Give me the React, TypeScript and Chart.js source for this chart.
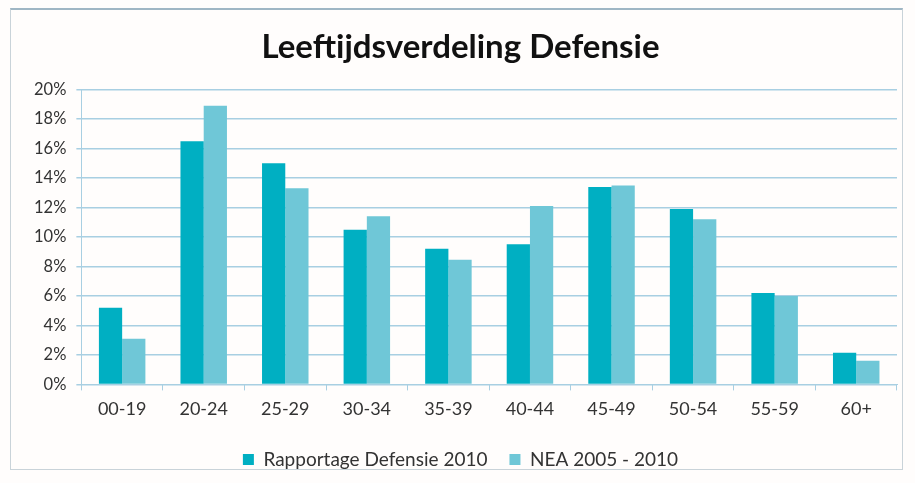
import React, { useEffect, useRef } from "react";
import { Chart, registerables } from "chart.js";

Chart.register(...registerables);

const categories = ["00-19", "20-24", "25-29", "30-34", "35-39", "40-44", "45-49", "50-54", "55-59", "60+"];
const rapportage2010 = [5.2, 16.5, 15.0, 10.5, 9.2, 9.5, 13.4, 11.9, 6.2, 2.15];
const nea20052010 = [3.1, 18.9, 13.3, 11.4, 8.45, 12.1, 13.5, 11.2, 6.0, 1.6];
const seriesNames = ["Rapportage Defensie 2010", "NEA 2005 - 2010"];
const titleText = "Leeftijdsverdeling Defensie";

export default function App() {
  const ref = useRef<HTMLCanvasElement>(null);
  useEffect(() => {
    if (!ref.current) return;
    const font = "Lato, 'Open Sans', sans-serif";
    const chart = new Chart(ref.current, {
      type: "bar",
      data: {
        labels: categories,
        datasets: [
          { label: seriesNames[0], data: rapportage2010, backgroundColor: "#00afc2", categoryPercentage: 0.57, barPercentage: 1 },
          { label: seriesNames[1], data: nea20052010, backgroundColor: "#6fc7d7", categoryPercentage: 0.57, barPercentage: 1 },
        ],
      },
      options: {
        animation: false,
        responsive: true,
        maintainAspectRatio: false,
        layout: { padding: { left: 24, right: 18, top: 8, bottom: 4 } },
        plugins: {
          title: {
            display: true,
            text: titleText,
            color: "#111",
            font: { family: font, size: 33, weight: "bold" },
            padding: { top: 20, bottom: 22 },
          },
          legend: {
            position: "bottom",
            labels: {
              boxWidth: 11,
              boxHeight: 11,
              color: "#333",
              font: { family: font, size: 19 },
              padding: 22,
            },
          },
          tooltip: { enabled: false },
        },
        scales: {
          x: {
            grid: { drawOnChartArea: false, drawTicks: true, tickLength: 6, color: "#a8cfe2", offset: true },
            border: { color: "#a8cfe2" },
            ticks: { color: "#333", font: { family: font, size: 18 }, padding: 8 },
          },
          y: {
            min: 0,
            max: 20,
            ticks: {
              stepSize: 2,
              color: "#333",
              font: { family: font, size: 16.5 },
              padding: 10,
              callback: (v: any) => v + "%",
            },
            grid: { color: "#a8cfe2", tickLength: 5, lineWidth: 1.5 },
            border: { color: "#a8cfe2" },
          },
        },
      },
    });
    return () => chart.destroy();
  }, []);
  return (
    <div style={{ position: "fixed", left: 0, top: 0, width: 915, height: 483, background: "#fffdfc" }}>
      <div style={{ position: "absolute", left: 10, top: 8, width: 893, height: 462, border: "1px solid #c9d3d9", borderTop: "2px solid #9fb6c4", boxSizing: "border-box" }} />
      <div style={{ position: "absolute", left: 0, top: 0, width: 915, height: 483 }}>
        <canvas ref={ref} />
      </div>
    </div>
  );
}
